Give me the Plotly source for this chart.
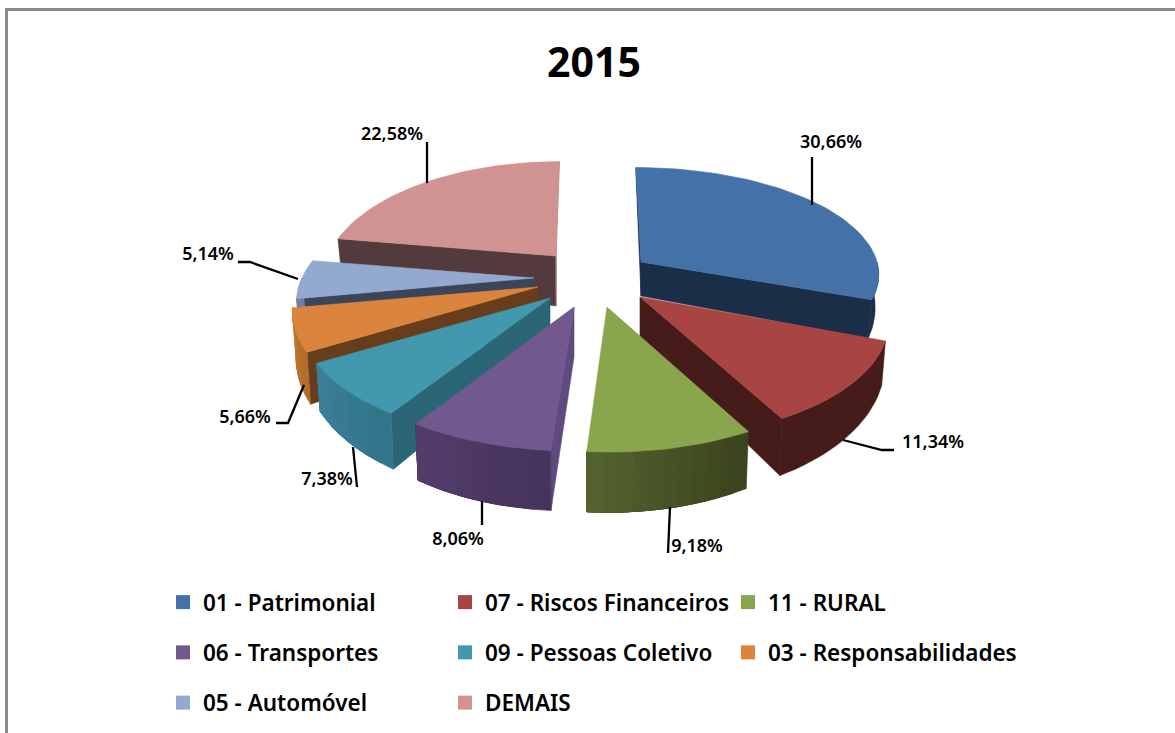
import math
import plotly.graph_objects as go

# ---- data ----
categories = ["01 - Patrimonial", "07 - Riscos Financeiros", "11 - RURAL", "06 - Transportes",
              "09 - Pessoas Coletivo", "03 - Responsabilidades", "05 - Automóvel", "DEMAIS"]
values = [30.66, 11.34, 9.18, 8.06, 7.38, 5.66, 5.14, 22.58]
title_text = "2015"

# ---- styles ----
top_colors = ["#4472a8", "#a84442", "#89a54e", "#71588f", "#4198af", "#db843d", "#93a9cf", "#d19392"]
wall_colors = ["#1b2e47", "#451c1a", "#3a431e", "#5e4a80", "#2b6677", "#673d1b", "#3a4559", "#533a3c"]
rim_left = ["#1b2e47", "#451c1a", "#55632f", "#533e6b", "#3b8096", "#c27a35", "#6c80a6", "#a46f6e"]
rim_right = ["#1b2e47", "#451c1a", "#39421d", "#44335a", "#31748a", "#b06c2c", "#6c80a6", "#a46f6e"]
# exploded apex position and shape of every slice, in pixels of the page
apex = [(641, 262), (640, 297), (607, 307), (574, 307), (550, 298), (538, 287), (534, 278), (556, 256)]
radius = [236, 243, 247, 245, 243, 240, 232, 228]
apex_depth = [34, 43, 50, 50, 44, 40, 36, 50]
q_radius = [105, 118, 121, 120, 118, 118, 118, 118]
persp = [0.1, 0.2, 0.2, 0.2, 0.2, 0.2, 0.2, 0.2]
depth_adj = [-6, 0, 0, 0, 0, 4, 0, 0]
CX = 590
legend_cols = {"legend": [0, 3, 6], "legend2": [1, 4, 7], "legend3": [2, 5]}
legend_x = {"legend": 163, "legend2": 445, "legend3": 728}
label_pos = [(831, 143), (933, 443), (697, 547), (458, 540), (327, 480), (245, 418), (208, 255), (392, 135)]
leaders = [
    [(812, 157), (812, 205)],
    [(843, 440), (882, 450), (894, 450)],
    [(670, 507), (668, 553)],
    [(482, 501), (482, 525)],
    [(353, 447), (357, 487)],
    [(304, 385), (288, 423), (276, 423)],
    [(298, 279), (250, 262), (238, 262)],
    [(427, 183), (427, 142)],
]
FONT = "Noto Sans"


def rim(i, t):
    ax, ay = apex[i]
    a = math.radians(t)
    s = 1 - persp[i] * math.cos(a)
    s0 = 1 - 0.2 * math.cos(a)
    return ax + radius[i] * s * math.sin(a) + (ax - CX) * (s0 - 1) * 0.5, ay - q_radius[i] * s * math.cos(a)


def rim_bottom(i, t):
    ax, ay = apex[i]
    x, y = rim(i, t)
    return ax + (x - ax) * 0.985, y + 36 + depth_adj[i] - 24 * math.cos(math.radians(t))


def lerp(c1, c2, f):
    a = [int(c1[j:j + 2], 16) for j in (1, 3, 5)]
    b = [int(c2[j:j + 2], 16) for j in (1, 3, 5)]
    return "#%02x%02x%02x" % tuple(round(p + (q - p) * f) for p, q in zip(a, b))


def poly(pts, color):
    xs = [p[0] for p in pts] + [pts[0][0]]
    ys = [p[1] for p in pts] + [pts[0][1]]
    return go.Scatter(x=xs, y=ys, mode="lines", fill="toself", fillcolor=color,
                      line=dict(color=color, width=0.6), hoverinfo="skip", showlegend=False)


# slice boundaries from the values, clockwise from the top
bounds = [0.0]
for v in values:
    bounds.append(bounds[-1] + v * 3.6)

fig = go.Figure()


def draw_slice(i):
    t0, t1 = bounds[i], bounds[i + 1]
    ax, ay = apex[i]
    bot = (ax, ay + apex_depth[i])
    # radial cut faces
    if i in (3, 4, 5, 6, 7, 0):
        fig.add_trace(poly([(ax, ay), rim(i, t0), rim_bottom(i, t0), bot], wall_colors[i]))
    if i == 7:
        fig.add_trace(poly([(ax, ay), rim(i, t1), (rim(i, t1)[0] - 4, rim(i, t1)[1] + 12), bot], rim_right[i]))
    if i in (0, 1):
        fig.add_trace(poly([(ax, ay), rim(i, t1), rim_bottom(i, t1), bot], wall_colors[i]))
    # outer rim, only the part facing the viewer: each band runs on to the end
    # of the rim and the next one paints over it, so no seams show between them
    a, b = max(t0, 90), min(t1, 270)
    if a < b:
        n = 1 if rim_left[i] == rim_right[i] else max(2, int((b - a) / 3))
        for k in range(n):
            p = a + (b - a) * k / n
            f = 1 - (k + 0.5) / n   # angle runs right to left at the front
            col = lerp(rim_left[i], rim_right[i], f)
            m = max(2, int((b - p) / 2))
            ts = [p + (b - p) * j / m for j in range(m + 1)]
            fig.add_trace(poly([rim(i, u) for u in ts] + [rim_bottom(i, u) for u in reversed(ts)], col))
    # top face
    n = max(4, int((t1 - t0) / 2))
    arc = [rim(i, t0 + (t1 - t0) * k / n) for k in range(n + 1)]
    fig.add_trace(poly([(ax, ay)] + arc, top_colors[i]))


for i in [7, 6, 5, 4, 3, 0, 1, 2]:
    draw_slice(i)

# leader lines and data labels
for pts in leaders:
    fig.add_trace(go.Scatter(x=[p[0] for p in pts], y=[p[1] for p in pts], mode="lines",
                             line=dict(color="black", width=2.3), hoverinfo="skip", showlegend=False))
fig.add_trace(go.Scatter(
    x=[p[0] for p in label_pos], y=[p[1] for p in label_pos], mode="text",
    text=[f"{v:.2f}".replace(".", ",") + "%" for v in values], textposition="middle center",
    textfont=dict(family=FONT, size=18, color="black", weight=600), hoverinfo="skip", showlegend=False))

# legend entries
for leg, idxs in legend_cols.items():
    for i in idxs:
        fig.add_trace(go.Scatter(x=[None], y=[None], mode="markers", name=categories[i], legend=leg,
                                 legendgroup=categories[i],
                                 marker=dict(symbol="square", size=14, color=top_colors[i])))


def leg_layout(x):
    return dict(x=x / 1175, y=1 - 581 / 733, xanchor="left", yanchor="top", bgcolor="rgba(0,0,0,0)",
                font=dict(family=FONT, size=22.5, color="black", weight=600), tracegroupgap=18,
                itemsizing="trace", itemclick=False, itemdoubleclick=False)


axis = dict(visible=False, fixedrange=True, domain=[0, 1])
fig.update_layout(
    width=1175, height=733, margin=dict(l=0, r=0, t=0, b=0), autosize=False,
    paper_bgcolor="white", plot_bgcolor="white",
    title=dict(text=title_text, x=594 / 1175, y=1 - 63 / 733, xanchor="center", yanchor="middle",
               font=dict(family=FONT, size=41, color="black", weight=700)),
    xaxis=dict(range=[0, 1175], **axis),
    yaxis=dict(range=[733, 0], **axis),
    legend=leg_layout(legend_x["legend"]),
    legend2=leg_layout(legend_x["legend2"]),
    legend3=leg_layout(legend_x["legend3"]),
    shapes=[
        dict(type="line", xref="x", yref="y", x0=6.5, y0=733, x1=6.5, y1=9.5, line=dict(color="#8a8a8a", width=3)),
        dict(type="line", xref="x", yref="y", x0=5, y0=9.5, x1=1175, y1=9.5, line=dict(color="#8a8a8a", width=3)),
    ],
)
fig.write_html("out.html", config=dict(displayModeBar=False),
               post_script="document.body.style.margin='0';document.body.style.overflow='hidden';")
